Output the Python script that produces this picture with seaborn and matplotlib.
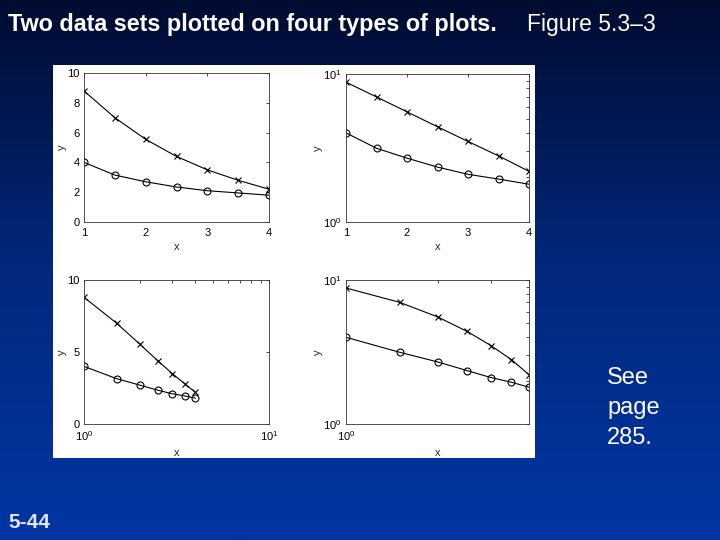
import numpy as np
import pandas as pd
import seaborn as sns
import matplotlib.pyplot as plt
from matplotlib.patches import Rectangle
from matplotlib.colors import LinearSegmentedColormap
from matplotlib.ticker import LogLocator, NullFormatter, FixedLocator

# data
x_vals = [1, 1.5, 2, 2.5, 3, 3.5, 4]
y_cross = [8.8, 7.0, 5.55, 4.4, 3.5, 2.8, 2.2]
y_circle = [4.0, 3.15, 2.7, 2.35, 2.1, 1.95, 1.8]

df = pd.DataFrame({'x': x_vals, 'cross': y_cross, 'circle': y_circle})

sns.set_style('white')
plt.rcParams['font.family'] = ['Liberation Sans', 'DejaVu Sans']

fig = plt.figure(figsize=(7.2, 5.4), dpi=100)

# slide background: dark navy at top to blue at bottom
bg = fig.add_axes([0, 0, 1, 1], zorder=-10)
grad = np.linspace(0, 1, 256).reshape(-1, 1)
cmap = LinearSegmentedColormap.from_list('slide', ['#000c30', '#02287e', '#0336a3'])
bg.imshow(grad, aspect='auto', cmap=cmap, extent=[0, 1, 0, 1], origin='upper')
bg.axis('off')

# white panel behind the plots
fig.patches.append(Rectangle((53 / 720, 1 - 458 / 540), (535 - 53) / 720, (458 - 65) / 540,
                             transform=fig.transFigure, facecolor='white', edgecolor='none', zorder=-5))


def make_ax(left, top, right, bottom):
    return fig.add_axes([left / 720, 1 - bottom / 540, (right - left) / 720, (bottom - top) / 540])


ax1 = make_ax(84, 73, 269, 222)
ax2 = make_ax(346, 74, 529, 222)
ax3 = make_ax(84, 280, 269, 424)
ax4 = make_ax(346, 280, 529, 424)

for ax in [ax1, ax2, ax3, ax4]:
    sns.lineplot(data=df, x='x', y='cross', ax=ax, color='black', lw=0.8,
                 marker='x', markersize=5, markeredgecolor='black', markeredgewidth=0.8)
    sns.lineplot(data=df, x='x', y='circle', ax=ax, color='black', lw=0.8,
                 marker='o', markersize=5, markerfacecolor='none', markeredgecolor='black',
                 markeredgewidth=0.8)
    ax.set_xlabel('x', fontsize=8, labelpad=3)
    ax.set_ylabel('y', fontsize=8, labelpad=0)
    ax.tick_params(direction='in', top=True, right=True, labelsize=8, length=2.5, width=0.5,
                   which='both', colors='black')
    ax.tick_params(axis='x', which='both', pad=4)
    ax.tick_params(axis='y', which='both', pad=3)
    for s in ax.spines.values():
        s.set_linewidth(0.6)
        s.set_color('#333333')
    ax.set_facecolor('white')

# linear plot
ax1.set_xlim(1, 4)
ax1.set_ylim(0, 10)
ax1.set_xticks([1, 2, 3, 4])
ax1.set_yticks([0, 2, 4, 6, 8, 10])

# semilog y
ax2.set_yscale('log')
ax2.set_xlim(1, 4)
ax2.set_ylim(1, 10)
ax2.set_xticks([1, 2, 3, 4])
ax2.yaxis.set_major_locator(FixedLocator([1, 10]))
ax2.yaxis.set_minor_locator(LogLocator(base=10, subs=np.arange(2, 10)))
ax2.yaxis.set_minor_formatter(NullFormatter())

# semilog x
ax3.set_xscale('log')
ax3.set_xlim(1, 10)
ax3.set_ylim(0, 10)
ax3.set_yticks([0, 5, 10])
ax3.xaxis.set_major_locator(FixedLocator([1, 10]))
ax3.xaxis.set_minor_locator(LogLocator(base=10, subs=np.arange(2, 10)))
ax3.xaxis.set_minor_formatter(NullFormatter())

# log-log
ax4.set_xscale('log')
ax4.set_yscale('log')
ax4.set_xlim(1, 4)
ax4.set_ylim(1, 10)
ax4.xaxis.set_major_locator(FixedLocator([1]))
ax4.xaxis.set_minor_locator(LogLocator(base=10, subs=np.arange(2, 10)))
ax4.xaxis.set_minor_formatter(NullFormatter())
ax4.yaxis.set_major_locator(FixedLocator([1, 10]))
ax4.yaxis.set_minor_locator(LogLocator(base=10, subs=np.arange(2, 10)))
ax4.yaxis.set_minor_formatter(NullFormatter())

# slide text
fig.text(8 / 720, 1 - 24 / 540, 'Two data sets plotted on four types of plots.', color='white',
         fontsize=16.8, fontweight='bold', va='center', ha='left')
fig.text(527 / 720, 1 - 24 / 540, 'Figure 5.3\u20133', color='white',
         fontsize=16.5, va='center', ha='left')
fig.text(607 / 720, 1 - 408 / 540, 'See\npage\n285.', color='white', fontsize=17,
         va='center', ha='left', linespacing=1.45)
fig.text(8 / 720, 1 - 522 / 540, '5-44', color='#dde6ff', fontsize=15, fontweight='bold',
         va='center', ha='left')

fig.savefig('out.png', dpi=100)
